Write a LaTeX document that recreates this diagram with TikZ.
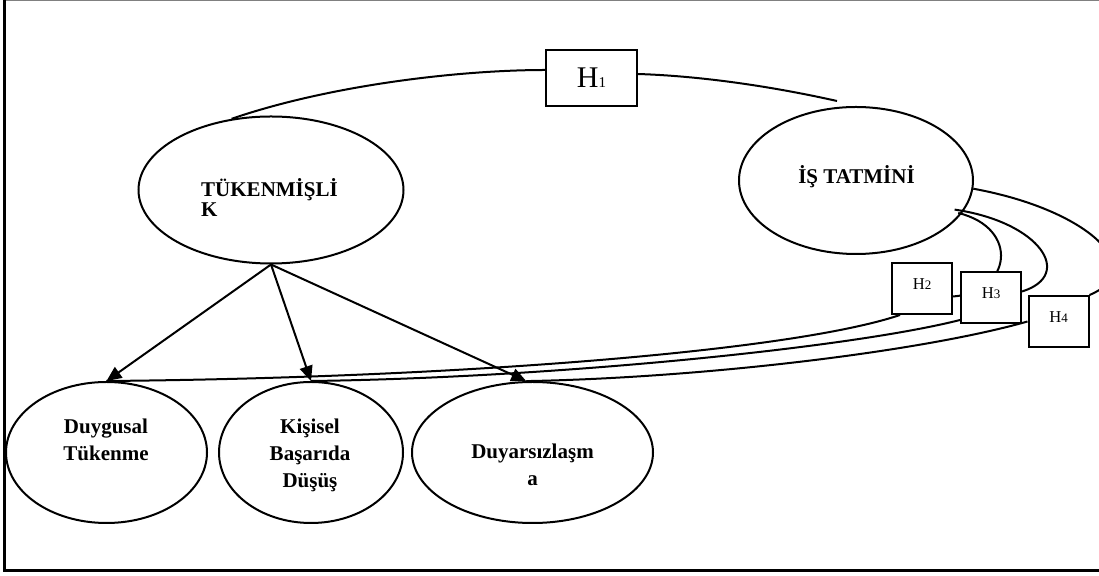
\documentclass[tikz,border=0pt]{standalone}
\usepackage{fontspec}
\setmainfont{Liberation Serif}
\usetikzlibrary{shapes.geometric}
\usetikzlibrary{arrows.meta}
\usetikzlibrary{backgrounds}

\begin{document}
\begin{tikzpicture}[x=0.5pt,y=-0.5pt,line width=1pt,
  oval/.style={draw,ellipse,inner sep=0pt},
  hbox/.style={draw,fill=white,inner sep=0pt,minimum width=30pt,minimum height=25.5pt,
               text depth=4pt,font=\fontsize{8.3}{10}\selectfont},
  lbl/.style={align=center,font=\fontsize{10.5}{13.5}\selectfont\bfseries},
  link/.style={line width=1pt},
  arr/.style={-{Triangle[length=7.5pt,width=6.5pt]}}]

\useasboundingbox (0,0) rectangle (1099,576);

\draw[gray,line width=0.8pt] (4.5,0.6) -- (1110,0.6);
\draw[line width=1.3pt] (4.5,0) -- (4.5,570.7) -- (1110,570.7);

\node[oval,minimum width=132.5pt,minimum height=73.5pt] (tk) at (271,190) {};
\node[oval,minimum width=117pt,minimum height=73.5pt] (is) at (856,180.5) {};
\node[oval,minimum width=100.5pt,minimum height=70.5pt] (dt) at (106.5,452.5) {};
\node[oval,minimum width=92pt,minimum height=70.5pt] (kb) at (311,452.5) {};
\node[oval,minimum width=120.5pt,minimum height=70.5pt] (du) at (532.5,452.5) {};

\node[lbl,align=left,font=\fontsize{10.5}{10}\selectfont\bfseries] (tkt) at (269.5,198) {TÜKENMİŞLİ\\K};
\node[lbl] (ist) at (856.5,177) {İŞ TATMİNİ};
\node[lbl] (dtt) at (106,440) {Duygusal\\Tükenme};
\node[lbl] (kbt) at (310,455.5) {Kişisel\\Başarıda\\Düşüş};
\node[lbl] (dut) at (532.5,465) {Duyarsızlaşm\\a};

\node[hbox,minimum width=45.5pt,minimum height=28pt,text depth=0pt,font=\fontsize{15}{16}\selectfont]
  (h1) at (591.5,78) {H{\fontsize{7.5}{8}\selectfont 1}};
\node[hbox] (h2) at (922,288.5) {H{\fontsize{6.5}{7}\selectfont 2}};
\node[hbox] (h3) at (991,297.5) {H{\fontsize{6.5}{7}\selectfont 3}};
\node[hbox] (h4) at (1058.5,321.5) {H{\fontsize{6.5}{7}\selectfont 4}};
\coordinate (h1end) at (837,101);

\draw (tk.119) .. controls (330,85) and (460,70) .. ([yshift=4pt]h1.west);
\draw ([yshift=2pt]h1.east) .. controls (700,76) and (770,86) .. (h1end);

\draw[arr] (tk.south) -- (dt.north);
\draw[arr] (tk.south) -- (kb.north);
\draw[arr] (tk.south) -- (du.95);

\begin{scope}[on background layer]
\draw[link] ([xshift=-2pt]is.-17) .. controls (1020,228) and (1012,292) .. ([yshift=-4pt]h2.east);
\draw[link] ([xshift=-5pt]is.-15) .. controls (1040,222) and (1075,275) .. ([yshift=3pt]h3.east);
\draw[link] (is.-4) .. controls (1090,210) and (1150,270) .. (h4.north east);
\end{scope}

\draw ([xshift=-11pt]h2.south) .. controls (790,352) and (450,378) .. (dt.north);
\draw ([yshift=2pt]h3.south west) .. controls (850,348) and (550,378) .. (kb.north);
\draw (h4.west) .. controls (920,352) and (700,378) .. (du.95);

\end{tikzpicture}
\end{document}
